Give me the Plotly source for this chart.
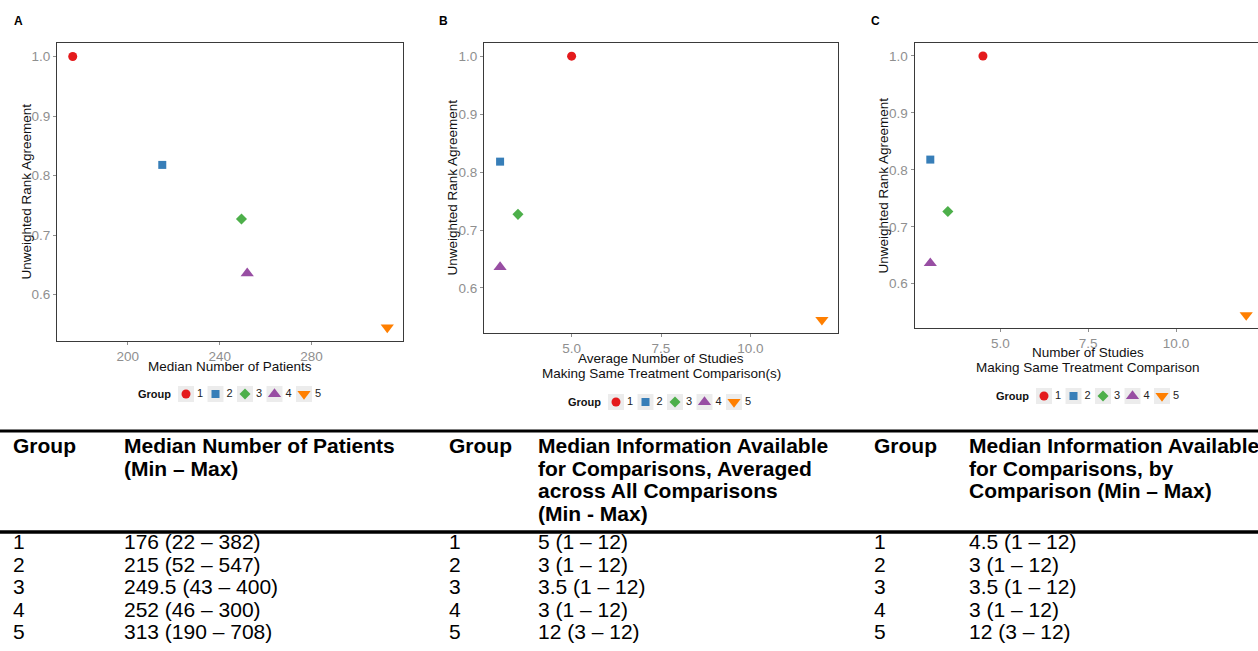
import plotly.graph_objects as go

W, H = 1258, 651

# ---- data -----------------------------------------------------------------
groups = ["1", "2", "3", "4", "5"]
rank_agreement = [1.0, 0.818, 0.727, 0.636, 0.545]

median_patients = [176, 215, 249.5, 252, 313]
patients_min = [22, 52, 43, 46, 190]
patients_max = [382, 547, 400, 300, 708]

info_averaged = [5, 3, 3.5, 3, 12]
info_averaged_min = [1, 1, 1, 1, 3]
info_averaged_max = [12, 12, 12, 12, 12]

info_by_comparison = [4.5, 3, 3.5, 3, 12]
info_by_comparison_min = [1, 1, 1, 1, 3]
info_by_comparison_max = [12, 12, 12, 12, 12]

y_ticks = [0.6, 0.7, 0.8, 0.9, 1.0]
x_ticks_patients = [200, 240, 280]
x_ticks_studies = [5.0, 7.5, 10.0]

header_patients = ["Median Number of Patients", "(Min – Max)"]
header_averaged = ["Median Information Available", "for Comparisons, Averaged",
                   "across All Comparisons", "(Min - Max)"]
header_by_comparison = ["Median Information Available", "for Comparisons, by",
                        "Comparison (Min – Max)"]

# ---- styling --------------------------------------------------------------
group_colors = ["#E41A1C", "#377EB8", "#4DAF4A", "#984EA3", "#FF7F00"]
group_symbols = ["circle", "square", "diamond", "triangle-up", "triangle-down"]
symbol_sizes = [9, 8, 8.5, 11.5, 11.5]

FONT = "Liberation Sans, Arial, sans-serif"
TICK_GREY = "#8f8f8f"
FRAME = "#3a3a3a"


def px_x(p):
    return p / W


def px_y(p):
    return 1 - p / H


def expand(vals, mult=0.05):
    lo, hi = min(vals), max(vals)
    pad = (hi - lo) * mult
    return [lo - pad, hi + pad]


def fmt(v):
    return f"{v:g}"


panels = [
    dict(label="A", label_xy=(18, 21.5), x=median_patients,
         xtitle=["Median Number of Patients"], title_y=[366.5],
         left=57, right=403, top=43, bottom=341,
         tickvals=x_ticks_patients, tickformat="d",
         legend_x0=186, legend_y=394),
    dict(label="B", label_xy=(443, 21.5), x=info_averaged,
         xtitle=["Average Number of Studies", "Making Same Treatment Comparison(s)"],
         title_y=[358.5, 373.5],
         left=484, right=838, top=43, bottom=333,
         tickvals=x_ticks_studies, tickformat=".1f",
         legend_x0=616, legend_y=402),
    dict(label="C", label_xy=(875, 21.5), x=info_by_comparison,
         xtitle=["Number of Studies", "Making Same Treatment Comparison"],
         title_y=[352.5, 367.5],
         left=914.5, right=1262, top=43, bottom=328,
         tickvals=x_ticks_studies, tickformat=".1f",
         legend_x0=1044, legend_y=396),
]

LEGEND_STEP = 29.5

fig = go.Figure()
annotations = []
shapes = []
layout_axes = {}

for i, p in enumerate(panels, start=1):
    xa, ya = f"x{i}", f"y{i}"
    xr = expand(p["x"])
    yr = expand(rank_agreement)
    vis_right = min(p["right"], W)
    if p["right"] > W:
        # panel runs past the page edge: keep the scale, clip the range
        xr = [xr[0], xr[0] + (xr[1] - xr[0]) * (vis_right - p["left"]) / (p["right"] - p["left"])]

    fig.add_trace(go.Scatter(
        x=p["x"], y=rank_agreement, mode="markers", xaxis=xa, yaxis=ya,
        marker=dict(symbol=group_symbols, color=group_colors, size=symbol_sizes,
                    opacity=1, line=dict(width=0)),
        showlegend=False, cliponaxis=False, hoverinfo="skip"))

    axis_common = dict(showgrid=False, zeroline=False, showline=True,
                       linecolor=FRAME, linewidth=1, ticks="outside", ticklen=3,
                       tickwidth=1, tickcolor=TICK_GREY,
                       tickfont=dict(family=FONT, size=13.5, color=TICK_GREY))
    layout_axes[f"xaxis{i}"] = dict(
        axis_common, domain=[px_x(p["left"]), px_x(vis_right)], range=xr,
        anchor=ya, mirror=True, tickvals=p["tickvals"], tickformat=p["tickformat"])
    layout_axes[f"yaxis{i}"] = dict(
        axis_common, domain=[px_y(p["bottom"]), px_y(p["top"])], range=yr,
        anchor=xa, mirror=(p["right"] <= W), tickvals=y_ticks, tickformat=".1f")

    # panel letter
    lx, ly = p["label_xy"]
    annotations.append(dict(text=f"<b>{p['label']}</b>", x=px_x(lx), y=px_y(ly),
                            xref="paper", yref="paper", showarrow=False,
                            xanchor="center", yanchor="middle",
                            font=dict(family=FONT, size=12, color="black")))
    # y title
    annotations.append(dict(text="Unweighted Rank Agreement", textangle=-90,
                            x=px_x(p["left"] - 31.5),
                            y=px_y((p["top"] + p["bottom"]) / 2),
                            xref="paper", yref="paper", showarrow=False,
                            xanchor="center", yanchor="middle",
                            font=dict(family=FONT, size=13.5, color="#111111")))
    # x title lines
    cx = (p["left"] + p["right"]) / 2
    for line, ty in zip(p["xtitle"], p["title_y"]):
        annotations.append(dict(text=line, x=px_x(cx), y=px_y(ty),
                                xref="paper", yref="paper", showarrow=False,
                                xanchor="center", yanchor="middle",
                                font=dict(family=FONT, size=13.5, color="#111111")))

    # legend row drawn on its own small axes
    lxa, lya = f"x{i + 3}", f"y{i + 3}"
    x0 = p["legend_x0"]
    lg_left = x0 - LEGEND_STEP / 2
    lg_right = x0 + (len(groups) - 1) * LEGEND_STEP + LEGEND_STEP / 2
    layout_axes[f"xaxis{i + 3}"] = dict(domain=[px_x(lg_left), px_x(lg_right)],
                                        range=[-0.5, len(groups) - 0.5], visible=False,
                                        anchor=lya, fixedrange=True)
    layout_axes[f"yaxis{i + 3}"] = dict(domain=[px_y(p["legend_y"] + 10), px_y(p["legend_y"] - 10)],
                                        range=[-1, 1], visible=False, anchor=lxa,
                                        fixedrange=True)
    idx = list(range(len(groups)))
    fig.add_trace(go.Scatter(
        x=idx, y=[0] * len(groups), xaxis=lxa, yaxis=lya, mode="markers+text",
        text=groups, textposition="middle right",
        textfont=dict(family=FONT, size=11, color="#222222"),
        marker=dict(symbol="square", size=16, color="#ececec", opacity=1,
                    line=dict(width=0)),
        showlegend=False, cliponaxis=False, hoverinfo="skip"))
    fig.add_trace(go.Scatter(
        x=idx, y=[0] * len(groups), xaxis=lxa, yaxis=lya, mode="markers",
        marker=dict(symbol=group_symbols, color=group_colors, size=symbol_sizes,
                    opacity=1, line=dict(width=0)),
        showlegend=False, cliponaxis=False, hoverinfo="skip"))
    annotations.append(dict(text="<b>Group</b>", x=-0.5, y=0, xref=lxa, yref=lya,
                            xanchor="right", yanchor="middle", showarrow=False, xshift=2,
                            font=dict(family=FONT, size=11, color="#111111")))

# ---- summary table ----------------------------------------------------------
TABLE_FONT = 21
header_y0, header_step = 445.5, 22.5
row_y0, row_step = 541.5, 22.5

table_columns = [
    (12, ["Group"], groups),
    (123, header_patients,
     [f"{fmt(m)} ({lo} – {hi})" for m, lo, hi in zip(median_patients, patients_min, patients_max)]),
    (448, ["Group"], groups),
    (537, header_averaged,
     [f"{fmt(m)} ({lo} – {hi})" for m, lo, hi in zip(info_averaged, info_averaged_min, info_averaged_max)]),
    (873, ["Group"], groups),
    (968, header_by_comparison,
     [f"{fmt(m)} ({lo} – {hi})" for m, lo, hi in
      zip(info_by_comparison, info_by_comparison_min, info_by_comparison_max)]),
]

for col_x, header_lines, cells in table_columns:
    for k, line in enumerate(header_lines):
        annotations.append(dict(text=f"<b>{line}</b>", x=px_x(col_x),
                                y=px_y(header_y0 + k * header_step),
                                xref="paper", yref="paper", xanchor="left", yanchor="middle",
                                showarrow=False, borderpad=0,
                                font=dict(family=FONT, size=TABLE_FONT, color="black")))
    for k, cell in enumerate(cells):
        annotations.append(dict(text=cell, x=px_x(col_x), y=px_y(row_y0 + k * row_step),
                                xref="paper", yref="paper", xanchor="left", yanchor="middle",
                                showarrow=False, borderpad=0,
                                font=dict(family=FONT, size=TABLE_FONT, color="black")))

for rule_y, rule_w in [(431, 3), (532, 3.5)]:
    shapes.append(dict(type="line", xref="paper", yref="paper", x0=0, x1=1,
                       y0=px_y(rule_y), y1=px_y(rule_y),
                       line=dict(color="black", width=rule_w)))

fig.update_layout(
    width=W, height=H, margin=dict(l=0, r=0, t=0, b=0),
    paper_bgcolor="white", plot_bgcolor="white",
    font=dict(family=FONT), showlegend=False,
    annotations=annotations, shapes=shapes, **layout_axes)

fig.write_html("out.html", config={"displayModeBar": False})
